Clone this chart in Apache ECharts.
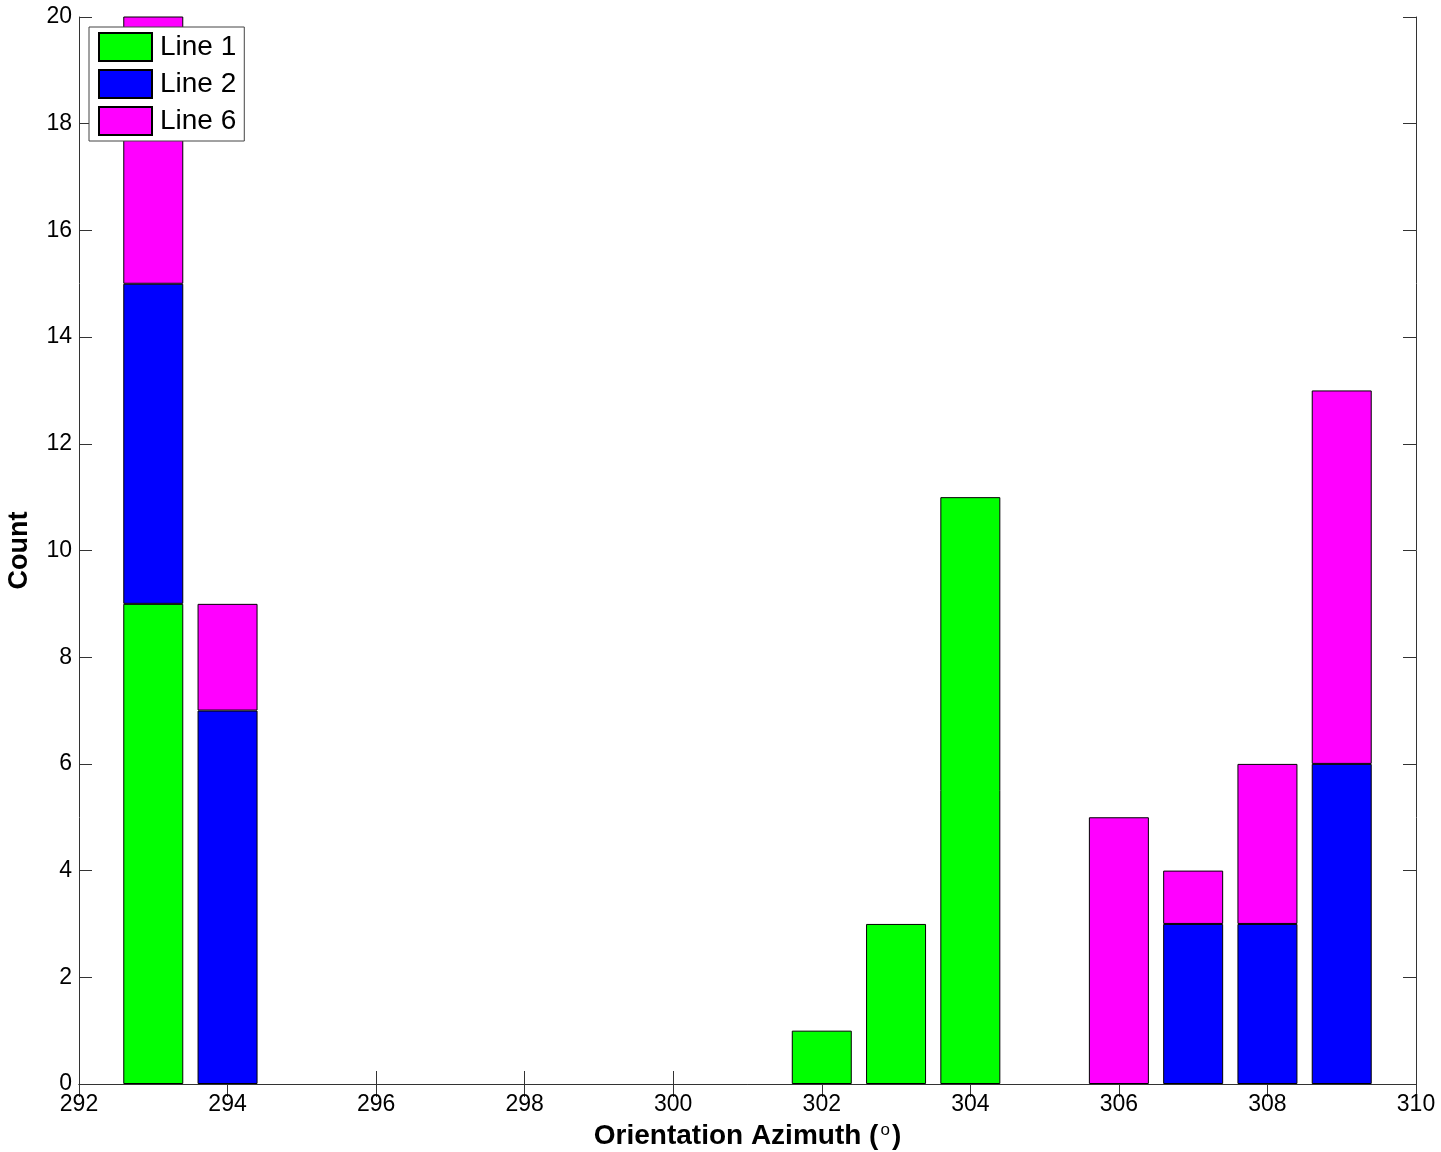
<!DOCTYPE html>
<html>
<head>
<meta charset="utf-8">
<script src="https://cdn.jsdelivr.net/npm/echarts@6/dist/echarts.min.js"></script>
<style>
  html, body { margin: 0; padding: 0; background: #fff; }
  #chart { width: 1441px; height: 1152px; }
</style>
</head>
<body>
<div id="chart"></div>
<script>
// azimuth bins (degrees) along the x axis, counts per line (0 = no bar)
const azimuths = ['292', '293', '294', '295', '296', '297', '298', '299', '300', '301',
  '302', '303', '304', '305', '306', '307', '308', '309', '310'];
const line1 = [0, 9, 0, 0, 0, 0, 0, 0, 0, 0, 1, 3, 11, 0, 0, 0, 0, 0, 0];
const line2 = [0, 6, 7, 0, 0, 0, 0, 0, 0, 0, 0, 0, 0, 0, 0, 3, 3, 6, 0];
const line6 = [0, 6, 2, 0, 0, 0, 0, 0, 0, 0, 0, 0, 0, 0, 5, 1, 3, 7, 0];
const yTicks = [0, 2, 4, 6, 8, 10, 12, 14, 16, 18, 20];

const axisColor = '#333';
const font = '"Liberation Sans", Arial, sans-serif';

function makeSeries(name, values, color) {
  return {
    name: name,
    type: 'bar',
    stack: 'total',
    barWidth: 60,
    itemStyle: { color: color, borderColor: '#000', borderWidth: 1 },
    emphasis: { disabled: true },
    data: values.map(v => ({
      value: v,
      itemStyle: { borderWidth: v ? 1 : 0 }
    }))
  };
}

const xTickCfg = {
  type: 'category',
  data: azimuths,
  boundaryGap: false,
  axisLine: { show: true, lineStyle: { color: axisColor } },
  axisTick: { show: true, inside: true, length: 13, interval: 1, lineStyle: { color: axisColor } },
  splitLine: { show: false }
};

const chart = echarts.init(document.getElementById('chart'));
chart.setOption({
  animation: false,
  textStyle: { fontFamily: font },
  grid: { left: 79, right: 25, top: 17, bottom: 68, outerBoundsMode: 'none', containLabel: false },
  legend: {
    left: 89, top: 27,
    orient: 'vertical',
    icon: 'rect',
    itemWidth: 53, itemHeight: 28, itemGap: 7,
    padding: [5, 8, 5, 9],
    backgroundColor: '#fff',
    borderColor: '#444', borderWidth: 1,
    textStyle: { fontSize: 28, lineHeight: 28, color: '#000', fontFamily: font, padding: [0, 0, 0, 3] },
    data: ['Line 1', 'Line 2', 'Line 6']
  },
  xAxis: [Object.assign({}, xTickCfg, {
    name: '{t|Orientation Azimuth (}{s|o}{t|)}',
    nameLocation: 'middle', nameGap: 38,
    nameTextStyle: {
      rich: {
        t: { fontSize: 28, fontWeight: 'bold', color: '#000', fontFamily: font },
        s: { fontSize: 17, color: '#000', fontFamily: font, verticalAlign: 'top', padding: [0, 2, 10, 2] }
      }
    },
    axisLabel: { interval: 1, fontSize: 23, color: '#000', margin: 9, fontFamily: font }
  }), Object.assign({}, xTickCfg, {
    position: 'top',
    axisLabel: { show: false }
  })],
  yAxis: [{
    type: 'value',
    min: yTicks[0], max: yTicks[yTicks.length - 1], interval: 2,
    name: 'Count',
    nameLocation: 'middle', nameGap: 46,
    nameTextStyle: { fontSize: 27, fontWeight: 'bold', color: '#000' },
    axisLine: { show: true, lineStyle: { color: axisColor } },
    axisTick: { show: true, inside: true, length: 13, lineStyle: { color: axisColor } },
    axisLabel: { fontSize: 23, color: '#000', margin: 7 },
    splitLine: { show: false }
  }, {
    type: 'value', position: 'right',
    min: yTicks[0], max: yTicks[yTicks.length - 1], interval: 2,
    axisLine: { show: true, lineStyle: { color: axisColor } },
    axisTick: { show: true, inside: true, length: 13, lineStyle: { color: axisColor } },
    axisLabel: { show: false },
    splitLine: { show: false }
  }],
  series: [
    makeSeries('Line 1', line1, '#00ff00'),
    makeSeries('Line 2', line2, '#0000ff'),
    makeSeries('Line 6', line6, '#ff00ff')
  ]
});
</script>
</body>
</html>
